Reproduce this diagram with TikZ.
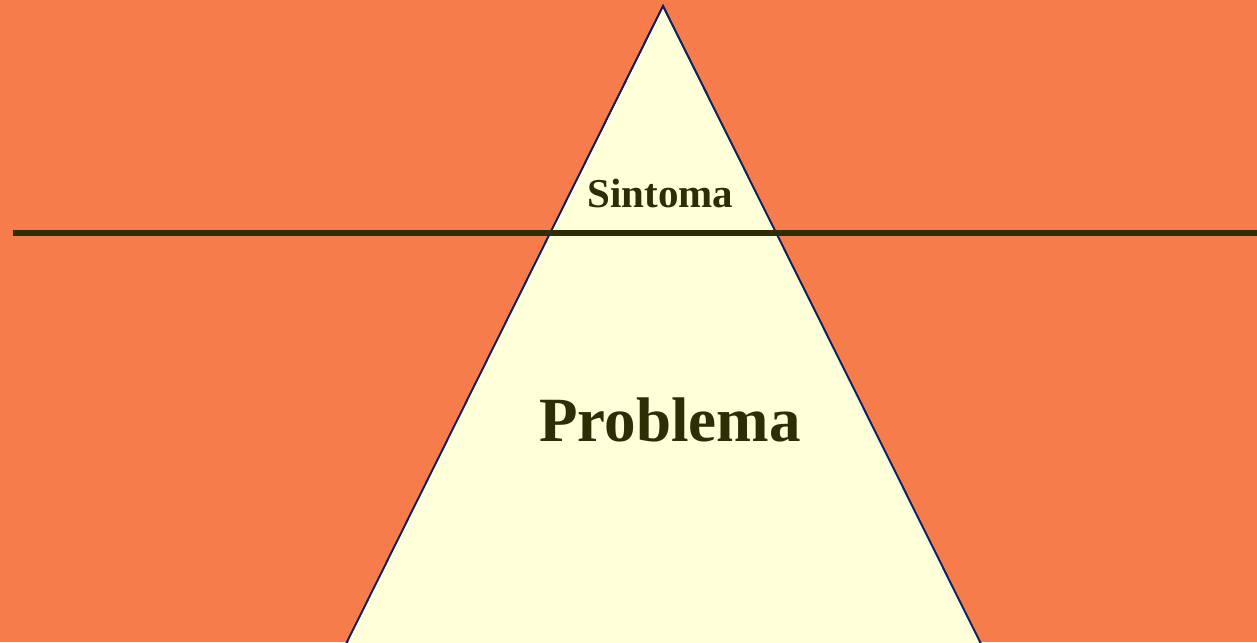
\documentclass[tikz,border=0pt]{standalone}
\usepackage{fontspec}
\setmainfont{Liberation Serif}
\definecolor{bgorange}{RGB}{246,125,75}
\definecolor{triyellow}{RGB}{255,255,217}
\definecolor{olive}{RGB}{46,46,5}
\definecolor{navy}{RGB}{10,35,100}
\tikzset{
  tri/.style={fill=triyellow, draw=navy, line width=1.8pt, line join=miter},
  waterline/.style={draw=olive, line width=6pt},
  lbl/.style={anchor=base, inner sep=0pt, text=olive, font=\bfseries}
}
\begin{document}
\begin{tikzpicture}[x=1pt,y=-1pt]
\fill[bgorange] (0,0) rectangle (1257,642);
\useasboundingbox (0,0) rectangle (1257,642);
\coordinate (apex) at (663,6);
\coordinate (bl) at (346,644);
\coordinate (br) at (981,644);
\draw[tri] (bl) -- (apex) -- (br);
\fill[triyellow] (347,641) -- (663,9) -- (980,641) -- cycle;
\draw[navy, line width=1.8pt] (bl) -- (apex) -- (br);
\coordinate (wl) at (13,233);
\coordinate (wr) at (1257,233);
\draw[waterline] (wl) -- (wr);
\node[lbl, font=\fontsize{41}{41}\selectfont\bfseries] (sint) at (660.5,207) {Sintoma};
\node[lbl, font=\fontsize{63}{63}\selectfont\bfseries] (prob) at (670,441) {Problema};
\end{tikzpicture}
\end{document}
